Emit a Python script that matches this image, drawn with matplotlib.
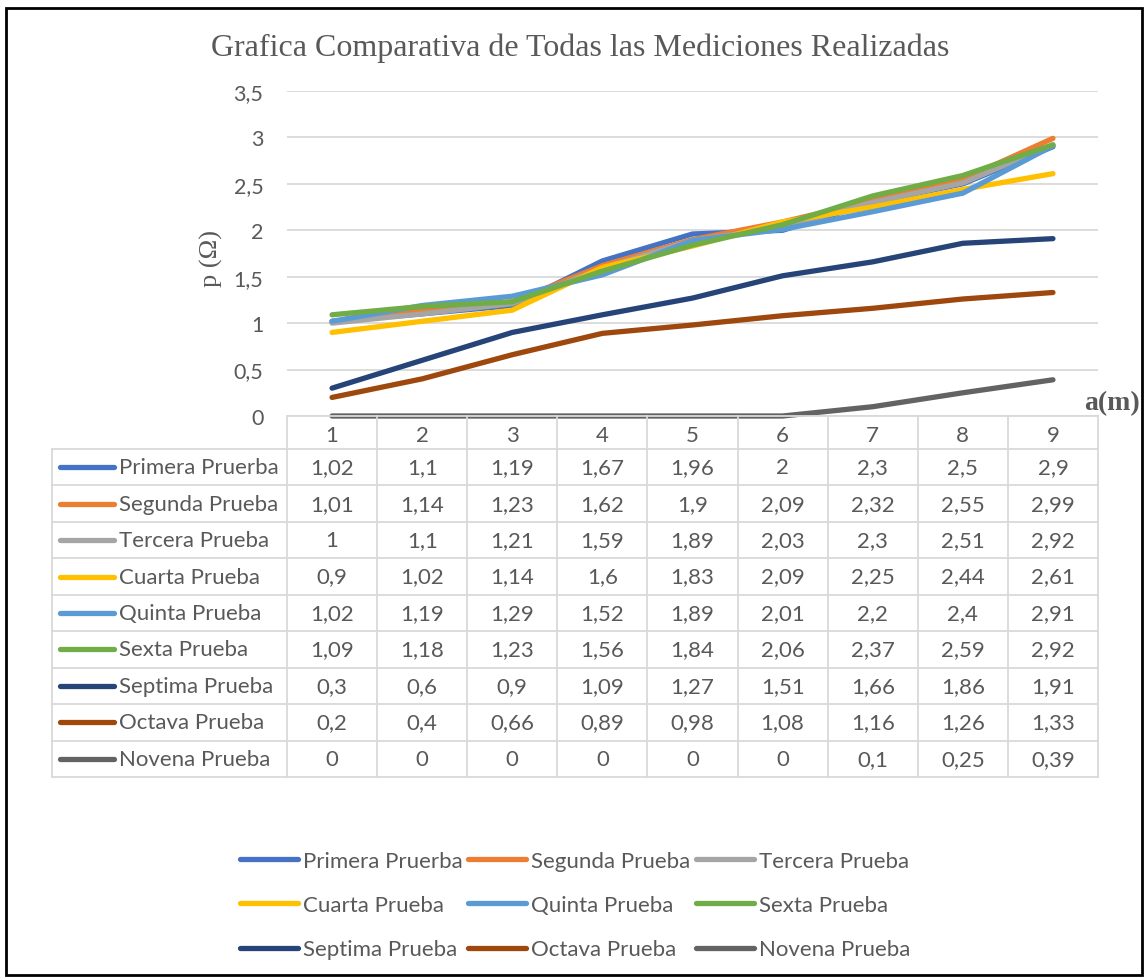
import matplotlib.pyplot as plt
from matplotlib.lines import Line2D
import numpy as np

distances = [1, 2, 3, 4, 5, 6, 7, 8, 9]
series_names = ['Primera Pruerba', 'Segunda Prueba', 'Tercera Prueba', 'Cuarta Prueba',
                'Quinta Prueba', 'Sexta Prueba', 'Septima Prueba', 'Octava Prueba', 'Novena Prueba']
primera = [1.02, 1.1, 1.19, 1.67, 1.96, 2, 2.3, 2.5, 2.9]
segunda = [1.01, 1.14, 1.23, 1.62, 1.9, 2.09, 2.32, 2.55, 2.99]
tercera = [1, 1.1, 1.21, 1.59, 1.89, 2.03, 2.3, 2.51, 2.92]
cuarta = [0.9, 1.02, 1.14, 1.6, 1.83, 2.09, 2.25, 2.44, 2.61]
quinta = [1.02, 1.19, 1.29, 1.52, 1.89, 2.01, 2.2, 2.4, 2.91]
sexta = [1.09, 1.18, 1.23, 1.56, 1.84, 2.06, 2.37, 2.59, 2.92]
septima = [0.3, 0.6, 0.9, 1.09, 1.27, 1.51, 1.66, 1.86, 1.91]
octava = [0.2, 0.4, 0.66, 0.89, 0.98, 1.08, 1.16, 1.26, 1.33]
novena = [0, 0, 0, 0, 0, 0, 0.1, 0.25, 0.39]
all_series = [primera, segunda, tercera, cuarta, quinta, sexta, septima, octava, novena]
colors = ['#4472C4', '#ED7D31', '#A5A5A5', '#FFC000', '#5B9BD5',
          '#70AD47', '#264478', '#9E480E', '#636363']
y_ticks = [0, 0.5, 1, 1.5, 2, 2.5, 3, 3.5]


def fmt(v):
    return f'{v:g}'.replace('.', ',')


W, H = 1148, 978
def fx(x):
    return x / W
def fy(y):
    return 1 - y / H

txt_col = '#595959'
grid_col = '#D9D9D9'
sans = 'Lato'
serif = 'Liberation Serif'
fs = 16

fig = plt.figure(figsize=(W / 100, H / 100), dpi=100)

# plot area
left, right, top, bottom = 287, 1098, 92, 417
ax = fig.add_axes([fx(left), fy(bottom), (right - left) / W, (bottom - top) / H])
for name, vals, c in zip(series_names, all_series, colors):
    ax.plot(distances, vals, color=c, lw=3.8, label=name, clip_on=False,
            solid_capstyle='round', solid_joinstyle='round')
ax.set_xlim(0.5, 9.5)
ax.set_ylim(0, 3.5)
ax.set_yticks(y_ticks)
ax.set_yticklabels([fmt(t) for t in y_ticks], fontfamily=sans, fontsize=15.5, color=txt_col)
ax.set_xticks([])
ax.tick_params(axis='y', length=0, pad=17)
ax.grid(axis='y', color=grid_col, lw=1.3)
ax.set_axisbelow(True)
for s in ax.spines.values():
    s.set_visible(False)

fig.text(fx(580), fy(48), 'Grafica Comparativa de Todas las Mediciones Realizadas',
         ha='center', va='center', fontfamily=serif, fontsize=23, color=txt_col)
fig.text(fx(211), fy(259), 'p (Ω)', rotation=90, ha='center', va='center',
         fontfamily=serif, fontsize=19, color=txt_col)
fig.text(fx(1112), fy(404), 'a(m)', ha='center', va='center',
         fontfamily=serif, fontsize=20, fontweight='bold', color=txt_col)

# data table under the plot
def hline(x0, x1, y, color=grid_col, lw=1.3):
    fig.add_artist(Line2D([fx(x0), fx(x1)], [fy(y), fy(y)], color=color, lw=lw,
                          transform=fig.transFigure))
def vline(x, y0, y1, color=grid_col, lw=1.3):
    fig.add_artist(Line2D([fx(x), fx(x)], [fy(y0), fy(y1)], color=color, lw=lw,
                          transform=fig.transFigure))

col_w = (right - left) / 9
label_left = 52
row_edges = [450 + i * (778 - 450) / 9 for i in range(10)]

hline(left, right, bottom)
for y in row_edges:
    hline(label_left, right, y)
for k in range(10):
    vline(left + k * col_w, bottom, row_edges[-1])
vline(label_left, row_edges[0], row_edges[-1])

for k, d in enumerate(distances):
    fig.text(fx(left + (k + 0.5) * col_w), fy(436), str(d),
             ha='center', va='center', fontfamily=sans, fontsize=fs, color=txt_col)

for i, (name, vals, c) in enumerate(zip(series_names, all_series, colors)):
    yc = (row_edges[i] + row_edges[i + 1]) / 2
    fig.add_artist(Line2D([fx(60), fx(114)], [fy(yc), fy(yc)], color=c, lw=3.8,
                          solid_capstyle='round', transform=fig.transFigure))
    fig.text(fx(119), fy(yc), name, ha='left', va='center',
             fontfamily=sans, fontsize=fs, color=txt_col)
    for k, v in enumerate(vals):
        fig.text(fx(left + (k + 0.5) * col_w), fy(yc), fmt(v),
                 ha='center', va='center', fontfamily=sans, fontsize=fs, color=txt_col)

# legend, row-major order like Excel
handles, labels = ax.get_legend_handles_labels()
order = [0, 3, 6, 1, 4, 7, 2, 5, 8]
leg = fig.legend([handles[i] for i in order], [labels[i] for i in order],
                 loc='center', bbox_to_anchor=(fx(575), fy(906)), ncol=3, frameon=False,
                 prop={'family': sans, 'size': fs}, handlelength=2.6, handletextpad=0.23,
                 columnspacing=0.25, labelspacing=1.1)
for t in leg.get_texts():
    t.set_color(txt_col)

# outer chart border
fig.add_artist(plt.Rectangle((fx(6), fy(976)), fx(1142) - fx(6), fy(9) - fy(976),
                             fill=False, ec='black', lw=2, transform=fig.transFigure))

fig.savefig('out.png', dpi=100)
